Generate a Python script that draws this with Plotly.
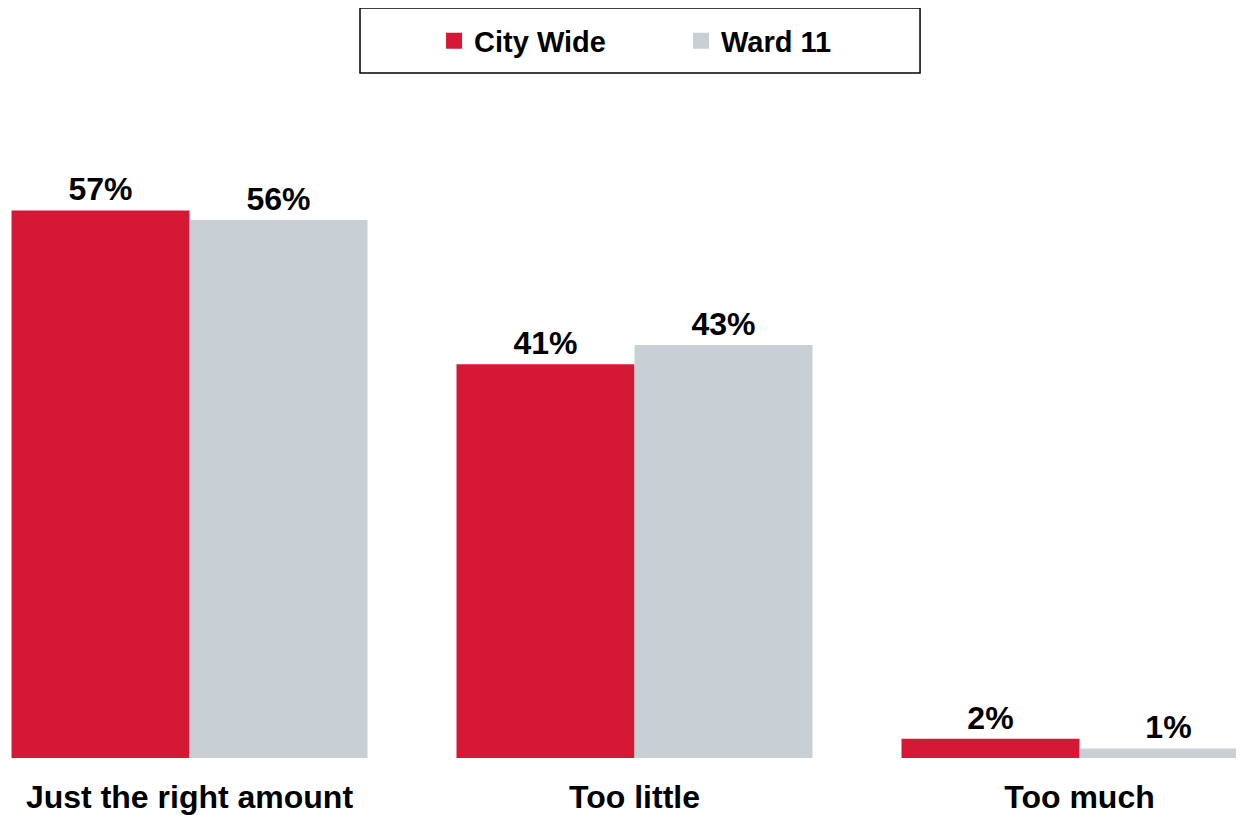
import plotly.graph_objects as go

# ==========================================================
# DATA
# ==========================================================

categories = ["Just the right amount", "Too little", "Too much"]

city_wide = [57, 41, 2]
ward_11 = [56, 43, 1]

series_names = ["City Wide", "Ward 11"]
series_colors = ["#D51835", "#C8CFD5"]

FONT = "Liberation Sans, Arial, sans-serif"

# ==========================================================
# BARS
# ==========================================================

fig = go.Figure()

for name, values, color in zip(series_names, [city_wide, ward_11], series_colors):
    fig.add_trace(
        go.Bar(
            x=categories,
            y=values,
            name=name,
            legendgroup=name,
            showlegend=False,
            marker=dict(color=color, line=dict(width=0)),
            text=[f"{v}%" for v in values],
            textposition="outside",
            textfont=dict(family=FONT, size=32, color="black", weight="bold"),
            cliponaxis=False,
        )
    )

    # legend entry with a larger square swatch
    fig.add_trace(
        go.Scatter(
            x=[None],
            y=[None],
            mode="markers",
            name=name,
            legendgroup=name,
            marker=dict(symbol="square", size=16, color=color),
        )
    )

# ==========================================================
# LAYOUT
# ==========================================================

fig.update_layout(
    width=1236,
    height=807,
    barmode="group",
    bargap=0.2,
    bargroupgap=0,
    plot_bgcolor="white",
    paper_bgcolor="white",
    margin=dict(l=0, r=0, t=92, b=57),
    font=dict(family=FONT, color="black"),
    legend=dict(
        orientation="h",
        x=0.3447,
        xanchor="left",
        y=1.0897,
        yanchor="middle",
        borderwidth=0,
        entrywidth=202,
        font=dict(family=FONT, size=29, color="black", weight="bold"),
        itemclick=False,
        bgcolor="rgba(0,0,0,0)",
    ),
    showlegend=True,
    shapes=[
        dict(
            type="rect",
            xref="paper",
            yref="paper",
            x0=0.2848,
            x1=0.7379,
            y0=1.041,
            y1=1.1398,
            line=dict(color="black", width=1.5),
            fillcolor="rgba(0,0,0,0)",
        )
    ],
)

fig.update_xaxes(
    range=[-0.4079, 2.3697],
    showgrid=False,
    showline=False,
    zeroline=False,
    ticks="",
    ticklabelstandoff=17,
    tickfont=dict(family=FONT, size=32, color="black", weight="bold"),
)

fig.update_yaxes(
    range=[0, 68.5],
    visible=False,
)

fig.write_html("out.html")
